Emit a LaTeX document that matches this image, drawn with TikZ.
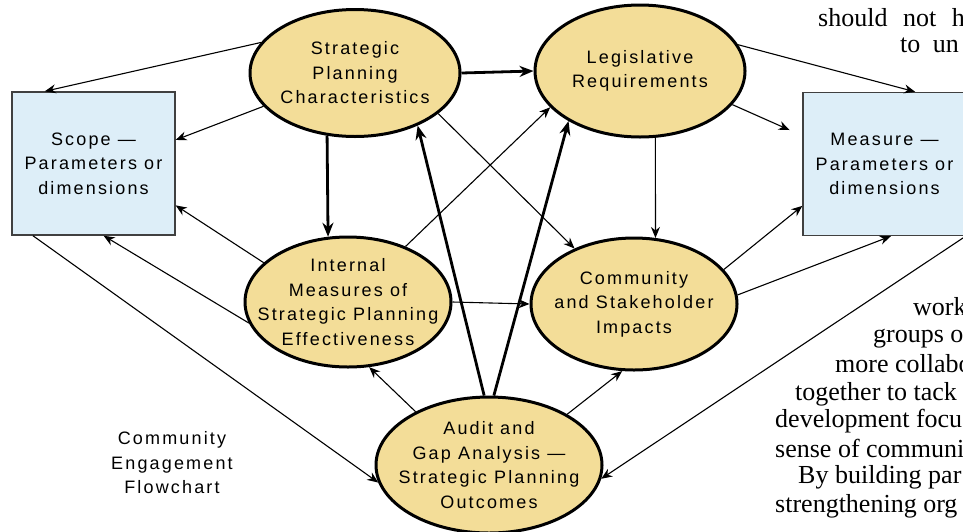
\documentclass[tikz,border=0pt]{standalone}
\usepackage{fontspec}
\usepackage{tikz}
\usetikzlibrary{arrows.meta}
\usetikzlibrary{shapes.geometric}
\usetikzlibrary{positioning}
\newfontfamily\boxfont[LetterSpace=12]{Liberation Sans}
\newfontfamily\pagefont{Liberation Serif}
\definecolor{bubfill}{RGB}{243,221,152}
\definecolor{boxfill}{RGB}{221,238,248}
\tikzstyle{tran}  = [
    draw,
    ->,
    >={Stealth[length=11pt,width=9pt]},
    line width=1.1pt
]
\tikzstyle{heavy} = [
    tran,
    line width=2.8pt,
    >={Stealth[length=14pt,width=11pt]}
]
\tikzstyle{bubble} = [
    shape=ellipse,
    draw,
    line width=3pt,
    fill=bubfill,
    inner sep=0pt
]
\tikzstyle{bubtext} = [
    align=center,
    font=\boxfont\fontsize{18}{24.5}\selectfont
]
\tikzstyle{param} = [
    shape=rectangle,
    draw=black!75,
    line width=1.4pt,
    fill=boxfill,
    minimum width=163,
    minimum height=143,
    bubtext
]
\tikzstyle{pagetext} = [
    anchor=base west,
    inner sep=0pt,
    font=\pagefont\fontsize{26}{28}\selectfont
]

\begin{document}
\begin{tikzpicture}[x=1pt, y=-1pt]
\path[use as bounding box, fill=white] (0,0) rectangle (963,531);
\clip (0,0) rectangle (963,531);

\node[bubble, minimum width=210, minimum height=127,
  label={[bubtext]center:{Strategic\\Planning\\Characteristics}}] (spc) at (355,73) {};
\node[bubble, minimum width=210, minimum height=132,
  label={[bubtext]center:{Legislative\\Requirements}}] (lr) at (640,71) {};
\node[bubble, minimum width=206, minimum height=130,
  label={[bubtext]center:{Internal\\Measures of\\Strategic Planning\\Effectiveness}}] (im) at (348,302) {};
\node[bubble, minimum width=206, minimum height=132,
  label={[bubtext]center:{Community\\and Stakeholder\\Impacts}}] (csi) at (634,304) {};
\node[bubble, minimum width=226, minimum height=136,
  label={[bubtext]center:{Audit and\\Gap Analysis —\\Strategic Planning\\Outcomes}}] (ag) at (489,465) {};

\node[param] (scope) at (93.5,163.5) {Scope —\\Parameters or\\dimensions};
\node[param] (meas)  at (884.5,164)  {Measure —\\Parameters or\\dimensions};

\node[bubtext] (title) at (172,463) {Community\\Engagement\\Flowchart};

\draw[heavy] (spc.east) to (lr.west);
\draw[heavy] (spc.246)  to (im.107);
\draw[heavy] (ag.94)    to (spc.-40);
\draw[heavy] (ag.86)    to (lr.215);

\draw[tran] (spc.162) to (scope.124);
\draw[tran] (spc.200) to (scope.16);
\draw[tran] (spc.-26) to (csi.137);
\draw[tran] (im.44)   to (lr.202);
\draw[tran] (lr.-77)  to (csi.72);
\draw[tran] (lr.15)   to (meas.67);
\draw[tran, shorten >=14pt] (lr.-20) to (meas.161);
\draw[tran] (im.155)  to (scope.-27);
\draw[tran] (im.192)  to (scope.-82);
\draw[tran] (scope.230) to (ag.189);
\draw[tran] (ag.144)  to (im.-72);
\draw[tran] (ag.33)   to (csi.-100);
\draw[tran] (meas.-41) to (ag.-7);
\draw[tran] (csi.21)  to (meas.207);
\draw[tran] (csi.5)   to (meas.-85);
\draw[tran] (im.east) to (csi.west);

\node[pagetext] (t1)  at (818,26)  {should\hspace{9pt} not\hspace{9pt} h};
\node[pagetext] (t2)  at (900,52)  {to\hspace{6pt} un};
\node[pagetext] (t3)  at (913,315) {work};
\node[pagetext] (t4)  at (873,342) {groups o};
\node[pagetext] (t5)  at (835,372) {more collabo};
\node[pagetext] (t6)  at (795,400) {together to tack};
\node[pagetext] (t7)  at (775,427) {development focu};
\node[pagetext] (t8)  at (775,457) {sense of communi};
\node[pagetext] (t9)  at (798,483) {By building par};
\node[pagetext] (t10) at (775,512) {strengthening org};

\end{tikzpicture}
\end{document}
